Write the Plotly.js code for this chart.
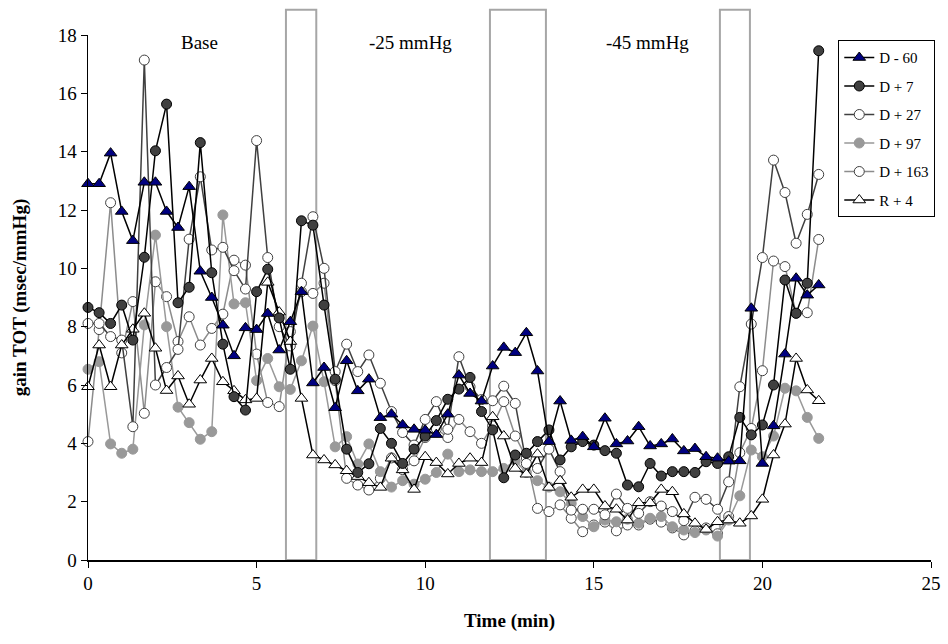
<!DOCTYPE html>
<html>
<head>
<meta charset="utf-8">
<script src="https://cdn.plot.ly/plotly-3.0.1.min.js"></script>
<style>html,body{margin:0;padding:0;background:#fff}#chart{width:948px;height:644px}</style>
</head>
<body>
<div id="chart"></div>
<script>
// Time (min)
const time = [
  0,0.33,0.67,1,1.33,1.67,
  2,2.33,2.67,3,3.33,3.67,
  4,4.33,4.67,5,5.33,5.67,
  6,6.33,6.67,7,7.33,7.67,
  8,8.33,8.67,9,9.33,9.67,
  10,10.33,10.67,11,11.33,11.67,
  12,12.33,12.67,13,13.33,13.67,
  14,14.33,14.67,15,15.33,15.67,
  16,16.33,16.67,17,17.33,17.67,
  18,18.33,18.67,19,19.33,19.67,
  20,20.33,20.67,21,21.33,21.67];

const dMinus60 = [
  12.9,12.9,13.95,11.95,10.95,12.95,
  12.95,11.95,11.4,12.8,9.9,9.0,
  8.05,7.0,7.96,7.9,8.45,7.2,
  8.17,9.2,6.07,6.6,5.22,6.83,
  5.8,6.2,4.88,5.0,4.63,4.48,
  4.45,4.3,5.0,6.34,5.71,5.45,
  6.65,7.29,7.11,7.79,6.48,4.06,
  5.45,4.1,4.23,3.88,4.86,3.98,
  4.08,4.57,3.91,3.98,4.15,3.74,
  3.82,3.54,3.49,3.39,3.4,8.63,
  3.31,4.6,7.06,9.66,9.08,9.43];

const dPlus7 = [
  8.66,8.48,8.11,8.74,7.54,10.38,
  14.03,15.63,8.82,9.35,14.31,9.85,
  7.4,5.6,5.14,9.2,9.97,8.3,
  6.54,11.63,11.48,8.74,6.2,3.8,
  3.0,3.3,4.51,4.0,3.31,3.8,
  4.25,4.78,5.51,5.86,6.26,5.09,
  4.46,2.82,3.6,3.66,4.06,4.46,
  3.43,3.88,4.06,3.94,3.75,3.66,
  2.57,2.51,3.31,2.88,3.03,3.03,
  3.0,3.37,3.31,3.54,4.89,4.29,
  4.63,6.0,9.6,8.46,9.49,17.46];

const dPlus27 = [
  8.11,8.11,7.66,7.54,4.57,17.14,
  6.0,6.6,7.22,11.0,13.14,10.63,
  10.72,9.92,9.29,14.38,10.37,8.0,
  7.34,9.49,11.77,10.0,6.46,7.4,
  6.46,7.03,6.06,5.09,4.37,3.94,
  4.82,5.43,4.48,6.97,5.94,5.5,
  5.46,5.96,5.37,3.31,3.14,3.8,
  3.03,1.71,1.74,1.74,1.55,2.26,
  1.77,1.6,2.0,1.85,1.66,1.35,
  2.15,2.08,1.74,2.68,5.94,8.09,
  10.37,13.71,12.6,10.86,11.85,13.22];

const dPlus97 = [
  6.54,6.8,3.98,3.66,3.8,8.06,
  11.14,8.0,5.24,4.71,4.14,4.4,
  11.83,8.78,8.82,6.15,6.91,5.94,
  5.85,6.83,8.02,6.11,3.88,4.23,
  3.29,3.98,3.03,2.5,2.72,2.6,
  2.77,3.0,3.63,3.03,3.09,3.03,
  3.03,3.14,3.4,3.0,2.72,2.5,
  2.34,1.94,1.49,1.14,1.37,1.31,
  1.4,1.26,1.43,1.49,1.14,1.03,
  0.94,1.03,0.82,1.37,2.2,3.77,
  3.54,4.25,5.89,5.8,4.89,4.17];

const dPlus163 = [
  4.06,7.9,12.25,7.1,8.86,5.03,
  9.54,9.03,7.49,8.34,7.37,7.94,
  8.43,10.28,10.11,7.06,5.4,5.26,
  7.83,9.2,9.14,9.49,6.15,2.8,
  2.57,2.4,2.8,3.5,3.1,3.4,
  4.2,4.5,4.2,4.82,4.4,4.0,
  4.6,5.43,4.25,3.5,1.77,1.66,
  1.89,1.43,0.97,1.2,1.3,1.0,
  1.2,1.2,1.4,1.3,1.1,0.86,
  1.0,1.1,0.9,1.49,3.68,4.51,
  6.49,10.25,10.06,8.46,8.48,10.99];

const rPlus4 = [
  5.94,7.37,5.94,7.37,7.91,8.46,
  7.26,5.81,6.31,5.34,6.17,6.91,
  6.11,5.8,5.49,5.54,9.52,8.5,
  7.49,5.54,3.6,3.43,3.26,3.06,
  2.86,2.65,2.49,3.49,3.09,2.42,
  3.54,3.34,2.95,3.31,3.49,3.34,
  4.91,4.25,3.14,2.94,3.63,2.49,
  2.72,2.15,2.42,2.42,1.85,1.74,
  1.37,1.96,1.96,2.42,2.34,1.58,
  1.26,1.05,1.31,1.37,1.26,1.51,
  2.08,3.6,4.66,6.91,5.83,5.46];

const seriesNames = ["D - 60","D + 7","D + 27","D + 97","D + 163","R + 4"];

// Protocol phases (min): transition windows and labels
const windowsStart = [5.87, 11.92, 18.74];
const windowsEnd   = [6.77, 13.58, 19.63];
const phaseLabels = ["Base", "-25 mmHg", "-45 mmHg"];
const phaseLabelX = [3.3, 9.55, 16.6];

const serif = "Liberation Serif, Times New Roman, serif";

function mk(name, y, rank, sym, fill, lineColor, size) {
  return {
    x: time, y: y, name: name, type: "scatter", mode: "lines+markers",
    legendgroup: "g" + rank, legendrank: rank,
    line: {color: lineColor, width: 1.5},
    marker: {symbol: sym, color: fill, size: size, line: {color: "#000", width: 1}},
    cliponaxis: false
  };
}

const traces = [
  mk(seriesNames[4], dPlus163, 5, "circle", "#ffffff", "#8c8c8c", 10),
  mk(seriesNames[3], dPlus97, 4, "circle", "#999999", "#999999", 10),
  mk(seriesNames[2], dPlus27, 3, "circle", "#ffffff", "#404040", 10),
  mk(seriesNames[5], rPlus4, 6, "triangle-up", "#ffffff", "#000000", 11),
  mk(seriesNames[1], dPlus7, 2, "circle", "#404040", "#000000", 10),
  mk(seriesNames[0], dMinus60, 1, "triangle-up", "#000080", "#000000", 11)
];
traces[1].marker.line.color = "#999999";
traces[0].marker.line.color = "#404040";
traces[2].marker.line.color = "#404040";

const shapes = windowsStart.map((s, i) => ({
  type: "rect", xref: "x", yref: "paper", x0: s, x1: windowsEnd[i], y0: 0, y1: 1.048,
  line: {color: "#a6a6a6", width: 2}, fillcolor: "rgba(0,0,0,0)", layer: "below"
}));

const annotations = phaseLabels.map((t, i) => ({
  text: t, x: phaseLabelX[i], y: 17.75, xref: "x", yref: "y", showarrow: false,
  font: {family: serif, size: 19, color: "#000"}
}));

const layout = {
  width: 948, height: 644,
  margin: {l: 88, r: 17, t: 35, b: 84},
  paper_bgcolor: "#fff", plot_bgcolor: "#fff",
  font: {family: serif, color: "#000"},
  xaxis: {
    range: [0, 25], dtick: 5, tick0: 0, showgrid: false, zeroline: false,
    showline: true, linecolor: "#000", linewidth: 1.5, ticks: "outside", ticklen: 6, tickcolor: "#000",
    tickfont: {family: serif, size: 19},
    title: {text: "<b>Time (min)</b>", font: {family: serif, size: 19}, standoff: 20}
  },
  yaxis: {
    range: [0, 18], dtick: 2, tick0: 0, showgrid: false, zeroline: false,
    showline: true, linecolor: "#000", linewidth: 1.5, ticks: "outside", ticklen: 6, tickcolor: "#000",
    tickfont: {family: serif, size: 19},
    title: {text: "<b>gain TOT (msec/mmHg)</b>", font: {family: serif, size: 19}, standoff: 26}
  },
  showlegend: true,
  legend: {
    x: 0.89, y: 0.99, xanchor: "left", yanchor: "top",
    bgcolor: "#fff", bordercolor: "#000", borderwidth: 1,
    font: {family: serif, size: 15, color: "#000"},
    tracegroupgap: 6, itemwidth: 30
  },
  shapes: shapes,
  annotations: annotations
};

Plotly.newPlot("chart", traces, layout, {displayModeBar: false, staticPlot: true});
</script>
</body>
</html>
